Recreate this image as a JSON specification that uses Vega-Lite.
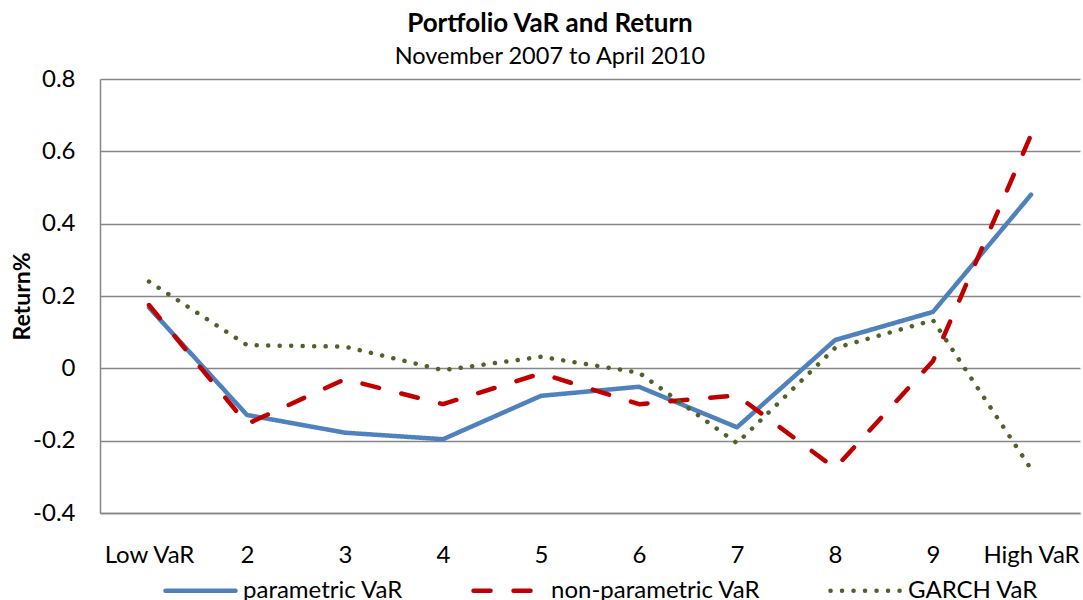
{
  "$schema": "https://vega.github.io/schema/vega-lite/v6.json",
  "width": 980,
  "height": 434,
  "autosize": {"type": "none"},
  "padding": {"left": 100, "top": 79, "right": 3, "bottom": 87},
  "background": "white",
  "title": {
    "text": "Portfolio VaR and Return",
    "subtitle": "November 2007 to April 2010",
    "anchor": "middle",
    "frame": "group",
    "dx": -40,
    "offset": -1,
    "font": "Lato",
    "fontSize": 26,
    "fontWeight": "bold",
    "color": "black",
    "subtitleFont": "Lato",
    "subtitleFontSize": 23.5,
    "subtitleColor": "black",
    "subtitlePadding": 8
  },
  "data": {
    "values": [
      {"cat": "Low VaR", "series": "parametric VaR", "value": 0.168},
      {"cat": "2", "series": "parametric VaR", "value": -0.129},
      {"cat": "3", "series": "parametric VaR", "value": -0.178},
      {"cat": "4", "series": "parametric VaR", "value": -0.196},
      {"cat": "5", "series": "parametric VaR", "value": -0.076},
      {"cat": "6", "series": "parametric VaR", "value": -0.051},
      {"cat": "7", "series": "parametric VaR", "value": -0.163},
      {"cat": "8", "series": "parametric VaR", "value": 0.078},
      {"cat": "9", "series": "parametric VaR", "value": 0.156},
      {"cat": "High VaR", "series": "parametric VaR", "value": 0.48},
      {"cat": "Low VaR", "series": "non-parametric VaR", "value": 0.175},
      {"cat": "2", "series": "non-parametric VaR", "value": -0.154},
      {"cat": "3", "series": "non-parametric VaR", "value": -0.03},
      {"cat": "4", "series": "non-parametric VaR", "value": -0.099},
      {"cat": "5", "series": "non-parametric VaR", "value": -0.014},
      {"cat": "6", "series": "non-parametric VaR", "value": -0.099},
      {"cat": "7", "series": "non-parametric VaR", "value": -0.075},
      {"cat": "8", "series": "non-parametric VaR", "value": -0.276},
      {"cat": "9", "series": "non-parametric VaR", "value": 0.02},
      {"cat": "High VaR", "series": "non-parametric VaR", "value": 0.645},
      {"cat": "Low VaR", "series": "GARCH VaR", "value": 0.24},
      {"cat": "2", "series": "GARCH VaR", "value": 0.064},
      {"cat": "3", "series": "GARCH VaR", "value": 0.06},
      {"cat": "4", "series": "GARCH VaR", "value": -0.005},
      {"cat": "5", "series": "GARCH VaR", "value": 0.032},
      {"cat": "6", "series": "GARCH VaR", "value": -0.012},
      {"cat": "7", "series": "GARCH VaR", "value": -0.207},
      {"cat": "8", "series": "GARCH VaR", "value": 0.056},
      {"cat": "9", "series": "GARCH VaR", "value": 0.133},
      {"cat": "High VaR", "series": "GARCH VaR", "value": -0.278}
    ]
  },
  "mark": {"type": "line", "strokeWidth": 4.5, "strokeCap": "round", "strokeJoin": "round"},
  "encoding": {
    "x": {
      "field": "cat",
      "type": "ordinal",
      "sort": ["Low VaR", "2", "3", "4", "5", "6", "7", "8", "9", "High VaR"],
      "scale": {"type": "point", "padding": 0.5},
      "axis": {
        "title": null,
        "labelAngle": 0,
        "labelFont": "Lato",
        "labelFontSize": 24,
        "labelColor": "black",
        "labelPadding": 30,
        "ticks": false,
        "grid": false,
        "domainColor": "#868686",
        "domainWidth": 1.5
      }
    },
    "y": {
      "field": "value",
      "type": "quantitative",
      "scale": {"domain": [-0.4, 0.8], "nice": false, "zero": false},
      "axis": {
        "values": [-0.4, -0.2, 0, 0.2, 0.4, 0.6, 0.8],
        "labelExpr": "datum.value < 0 ? '-' + format(-datum.value, '.1~f') : format(datum.value, '.1~f')",
        "labelFont": "Lato",
        "labelFontSize": 24,
        "labelColor": "black",
        "labelPadding": 25,
        "ticks": false,
        "grid": true,
        "gridColor": "#868686",
        "gridWidth": 1.5,
        "domainColor": "#868686",
        "domainWidth": 1.5,
        "title": "Return%",
        "titleFont": "Lato",
        "titleFontSize": 23,
        "titleFontWeight": "bold",
        "titleColor": "black",
        "titleX": -78,
        "titleY": 217,
        "titleAngle": 270,
        "titleAlign": "center",
        "titleBaseline": "middle"
      }
    },
    "color": {
      "field": "series",
      "type": "nominal",
      "scale": {
        "domain": ["parametric VaR", "non-parametric VaR", "GARCH VaR"],
        "range": ["#4F81BD", "#C00000", "#4F6228"]
      },
      "legend": {
        "title": null,
        "encode": {"symbols": {"update": {"strokeCap": {"value": "round"}}}}
      }
    },
    "strokeDash": {
      "field": "series",
      "type": "nominal",
      "scale": {
        "domain": ["parametric VaR", "non-parametric VaR", "GARCH VaR"],
        "range": [[1, 0], [17, 23], [0.1, 11.4]]
      },
      "legend": {
        "title": null,
        "encode": {"symbols": {"update": {"strokeCap": {"value": "round"}}}}
      }
    }
  },
  "config": {
    "view": {"stroke": null},
    "legend": {
      "orient": "none",
      "legendX": 63,
      "legendY": 474,
      "direction": "horizontal",
      "symbolType": "stroke",
      "symbolSize": 4900,
      "symbolStrokeWidth": 4.5,
      "labelFont": "Lato",
      "labelFontSize": 24,
      "labelLimit": 400,
      "labelColor": "black",
      "labelOffset": 5,
      "columnPadding": 60
    }
  }
}
